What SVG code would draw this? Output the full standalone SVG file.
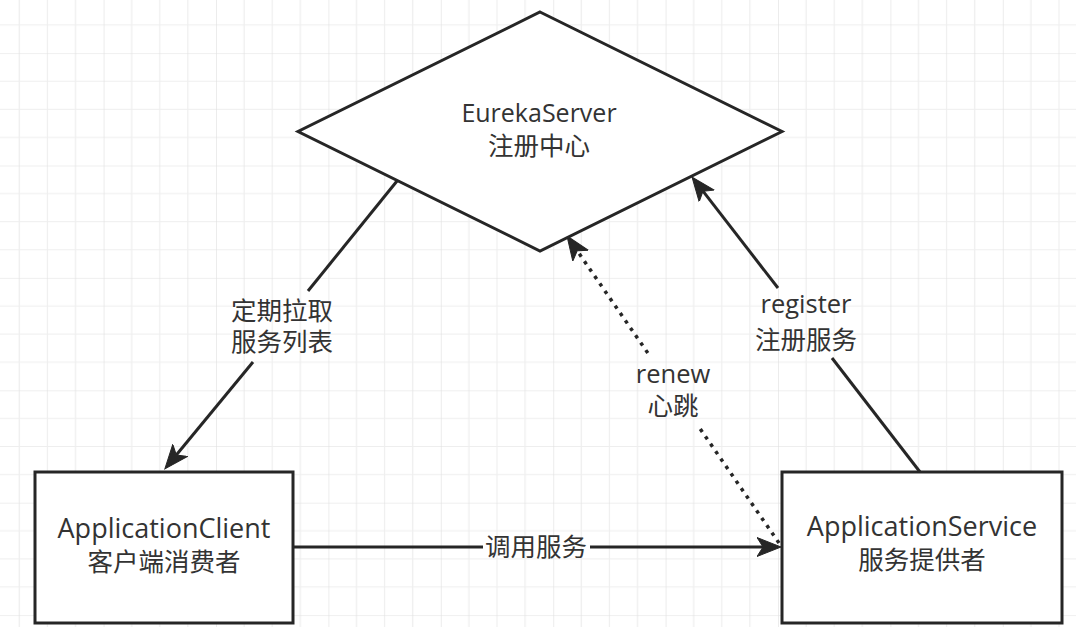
<svg xmlns="http://www.w3.org/2000/svg" width="1076" height="627" viewBox="0 0 1076 627">
  <style>
    .node { fill: #ffffff; stroke: #262626; stroke-width: 3; }
    .edge { fill: none; stroke: #262626; stroke-width: 3; }
    .dotted { stroke-width: 3.5; stroke-dasharray: 3.5 5.5; }
    .t { font-family: "Open Sans", "Noto Sans CJK SC", sans-serif; font-size: 25.5px; fill: #333333; text-anchor: middle; }
    .big { font-size: 27px; }
  </style>
  <defs>
    <pattern id="grid" patternUnits="userSpaceOnUse" x="103.6" y="53.1" width="112.4" height="112.4">
      <g stroke="#eeeeee" stroke-width="1.2">
        <line x1="28.1" y1="0" x2="28.1" y2="112.4"/>
        <line x1="56.2" y1="0" x2="56.2" y2="112.4"/>
        <line x1="84.3" y1="0" x2="84.3" y2="112.4"/>
        <line x1="0" y1="28.1" x2="112.4" y2="28.1"/>
        <line x1="0" y1="56.2" x2="112.4" y2="56.2"/>
        <line x1="0" y1="84.3" x2="112.4" y2="84.3"/>
      </g>
      <g stroke="#e0e0e0" stroke-width="1.2">
        <line x1="0" y1="0" x2="0" y2="112.4"/>
        <line x1="0" y1="0" x2="112.4" y2="0"/>
      </g>
    </pattern>
    <marker id="arrow" markerUnits="userSpaceOnUse" viewBox="0 -11 26 22" markerWidth="26" markerHeight="22" refX="6" refY="0" orient="auto">
      <path d="M24,0 L0,-9.5 L6,0 L0,9.5 Z" fill="#262626" stroke="#262626" stroke-width="1" stroke-linejoin="miter"/>
    </marker>
  </defs>
  <rect x="0" y="0" width="1076" height="627" fill="#ffffff"/>
  <rect x="0" y="0" width="1076" height="627" fill="url(#grid)"/>

  <g id="connectors">
    <g id="edge-fetch">
      <line class="edge" x1="397" y1="181" x2="308" y2="291"/>
      <line class="edge" x1="253" y1="362" x2="176.3" y2="455.0" marker-end="url(#arrow)"/>
      <text class="t" x="282" y="320">定期拉取</text>
      <text class="t" x="282" y="351">服务列表</text>
    </g>
    <g id="edge-register">
      <line class="edge" x1="920" y1="472" x2="832" y2="358"/>
      <line class="edge" x1="778" y1="288" x2="703" y2="191.2" marker-end="url(#arrow)"/>
      <text class="t" x="806" y="313">register</text>
      <text class="t" x="806" y="349">注册服务</text>
    </g>
    <g id="edge-renew">
      <line class="edge dotted" x1="779" y1="543" x2="699.6" y2="428"/>
      <line class="edge dotted" x1="647.8" y1="353" x2="577.2" y2="250.8" marker-end="url(#arrow)"/>
      <text class="t" x="673" y="383">renew</text>
      <text class="t" x="673" y="415">心跳</text>
    </g>
    <g id="edge-invoke">
      <line class="edge" x1="294" y1="547" x2="483" y2="547"/>
      <line class="edge" x1="590" y1="547" x2="763" y2="547" marker-end="url(#arrow)"/>
      <text class="t" x="536" y="556">调用服务</text>
    </g>
  </g>

  <g id="eureka-server">
    <polygon class="node" points="540,12 782,131.5 540,251 298,131.5"/>
    <text class="t" x="539" y="122" style="font-size:25px">EurekaServer</text>
    <text class="t" x="539" y="155">注册中心</text>
  </g>

  <g id="application-client">
    <rect class="node" x="35" y="472" width="258" height="151"/>
    <text class="t big" x="164" y="538">ApplicationClient</text>
    <text class="t" x="164" y="571">客户端消费者</text>
  </g>

  <g id="application-service">
    <rect class="node" x="782" y="472" width="280" height="151"/>
    <text class="t big" x="922" y="536">ApplicationService</text>
    <text class="t" x="922" y="569">服务提供者</text>
  </g>
</svg>
